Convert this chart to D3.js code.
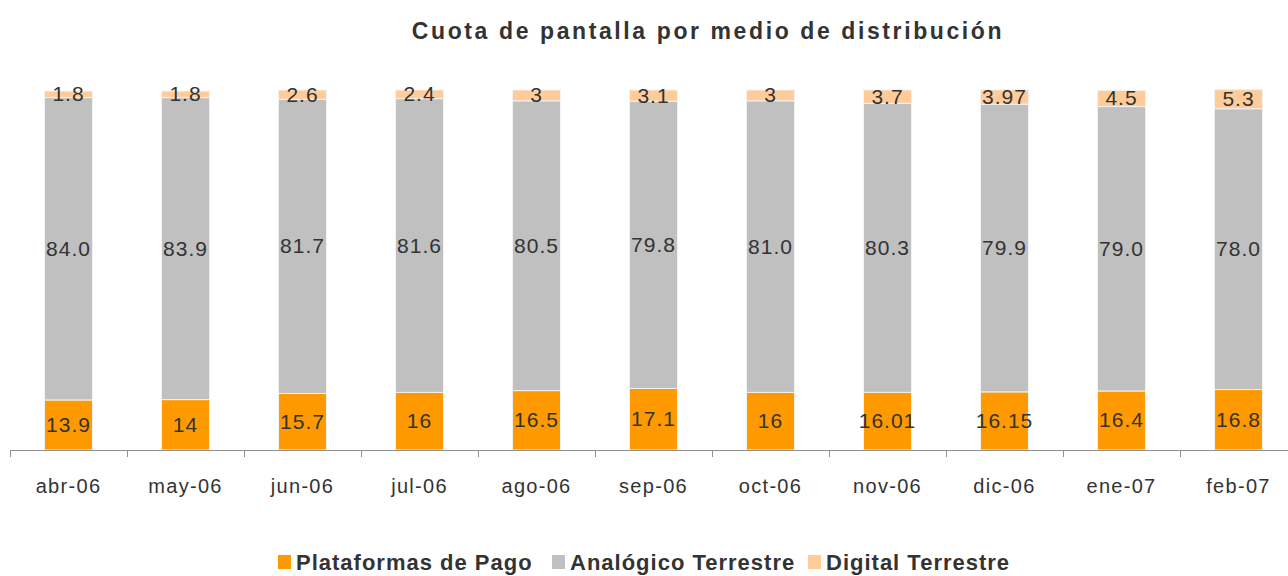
<!DOCTYPE html>
<html>
<head>
<meta charset="utf-8">
<script src="https://cdn.jsdelivr.net/npm/d3@7"></script>
<style>
body { margin: 0; background: #fff; }
text { font-family: "Liberation Sans", Arial, sans-serif; }
</style>
</head>
<body>
<script>
// categories and series
var months = ["abr-06", "may-06", "jun-06", "jul-06", "ago-06", "sep-06", "oct-06", "nov-06", "dic-06", "ene-07", "feb-07"];
var pago = [13.9, 14, 15.7, 16, 16.5, 17.1, 16, 16.01, 16.15, 16.4, 16.8];
var analogico = [84.0, 83.9, 81.7, 81.6, 80.5, 79.8, 81.0, 80.3, 79.9, 79.0, 78.0];
var digital = [1.8, 1.8, 2.6, 2.4, 3, 3.1, 3, 3.7, 3.97, 4.5, 5.3];
// labels as printed on the chart
var pagoLabels = ["13.9", "14", "15.7", "16", "16.5", "17.1", "16", "16.01", "16.15", "16.4", "16.8"];
var analogicoLabels = ["84.0", "83.9", "81.7", "81.6", "80.5", "79.8", "81.0", "80.3", "79.9", "79.0", "78.0"];
var digitalLabels = ["1.8", "1.8", "2.6", "2.4", "3", "3.1", "3", "3.7", "3.97", "4.5", "5.3"];
var seriesNames = ["Plataformas de Pago", "Analógico Terrestre", "Digital Terrestre"];
var colors = ["#FF9900", "#C0C0C0", "#FFCC99"];

var width = 1288, height = 576;
var marginLeft = 10, plotBottom = 450, plotTop = 90;

var svg = d3.select("body").append("svg")
  .attr("width", width)
  .attr("height", height);

var x = d3.scaleBand()
  .domain(months)
  .range([marginLeft, marginLeft + months.length * 117])
  .paddingInner(0.59)
  .paddingOuter(0.295);

var y = d3.scaleLinear()
  .domain([0, 100])
  .range([plotBottom, plotTop]);

var rows = months.map(function(m, i) {
  return {month: m, pago: pago[i], analogico: analogico[i], digital: digital[i], i: i};
});
var keys = ["pago", "analogico", "digital"];
var labelSets = [pagoLabels, analogicoLabels, digitalLabels];

var stacked = d3.stack().keys(keys)(rows);

//title
svg.append("text")
  .attr("x", 708)
  .attr("y", 39)
  .attr("text-anchor", "middle")
  .style("font-size", "23px")
  .style("font-weight", "bold")
  .style("letter-spacing", "2.6px")
  .style("fill", "#333")
  .text("Cuota de pantalla por medio de distribución");

var layers = svg.selectAll("g.layer")
  .data(stacked)
  .enter()
  .append("g")
  .attr("class", "layer")
  .style("fill", function(d, i) { return colors[i]; });

layers.selectAll("rect")
  .data(function(d) { return d; })
  .enter()
  .append("rect")
  .attr("x", function(d) { return x(d.data.month); })
  .attr("y", function(d) { return y(d[1]); })
  .attr("width", x.bandwidth())
  .attr("height", function(d) { return y(d[0]) - y(d[1]); })
  .style("stroke", "#f2f2f2")
  .style("stroke-width", 1);

layers.selectAll("text")
  .data(function(d) { return d.map(function(p) { return {p: p, key: d.key}; }); })
  .enter()
  .append("text")
  .attr("x", function(d) { return x(d.p.data.month) + x.bandwidth() / 2; })
  .attr("y", function(d) { return (y(d.p[0]) + y(d.p[1])) / 2 + 7; })
  .attr("text-anchor", "middle")
  .style("font-size", "21px")
  .style("letter-spacing", "1px")
  .style("fill", "#333")
  .text(function(d) { return labelSets[keys.indexOf(d.key)][d.p.data.i]; });

//axis
var xAxis = d3.axisBottom(x).tickSize(0).tickPadding(29);
var ax = svg.append("g")
  .attr("transform", "translate(0," + plotBottom + ")")
  .call(xAxis);
ax.select(".domain").remove();
ax.selectAll("text")
  .style("font-size", "20px")
  .style("letter-spacing", "1.3px")
  .style("fill", "#333")
  .style("font-family", "'Liberation Sans', Arial, sans-serif");

svg.append("line")
  .attr("x1", marginLeft).attr("x2", width)
  .attr("y1", plotBottom + 0.5).attr("y2", plotBottom + 0.5)
  .style("stroke", "#909090");

svg.selectAll("line.tick")
  .data(d3.range(months.length + 1))
  .enter()
  .append("line")
  .attr("class", "tick")
  .attr("x1", function(d) { return marginLeft + d * x.step() + 0.5; })
  .attr("x2", function(d) { return marginLeft + d * x.step() + 0.5; })
  .attr("y1", plotBottom)
  .attr("y2", plotBottom + 7)
  .style("stroke", "#909090");

//legend
var legendX = [278, 552, 808];
var legend = svg.selectAll("g.legend")
  .data(seriesNames)
  .enter()
  .append("g")
  .attr("class", "legend")
  .attr("transform", function(d, i) { return "translate(" + legendX[i] + ",555)"; });

legend.append("rect")
  .attr("width", 13).attr("height", 14)
  .attr("y", 0)
  .style("fill", function(d, i) { return colors[i]; });

legend.append("text")
  .attr("x", 18)
  .attr("y", 15)
  .style("font-size", "22px")
  .style("font-weight", "bold")
  .style("letter-spacing", "1px")
  .style("fill", "#333")
  .text(function(d) { return d; });
</script>
</body>
</html>
